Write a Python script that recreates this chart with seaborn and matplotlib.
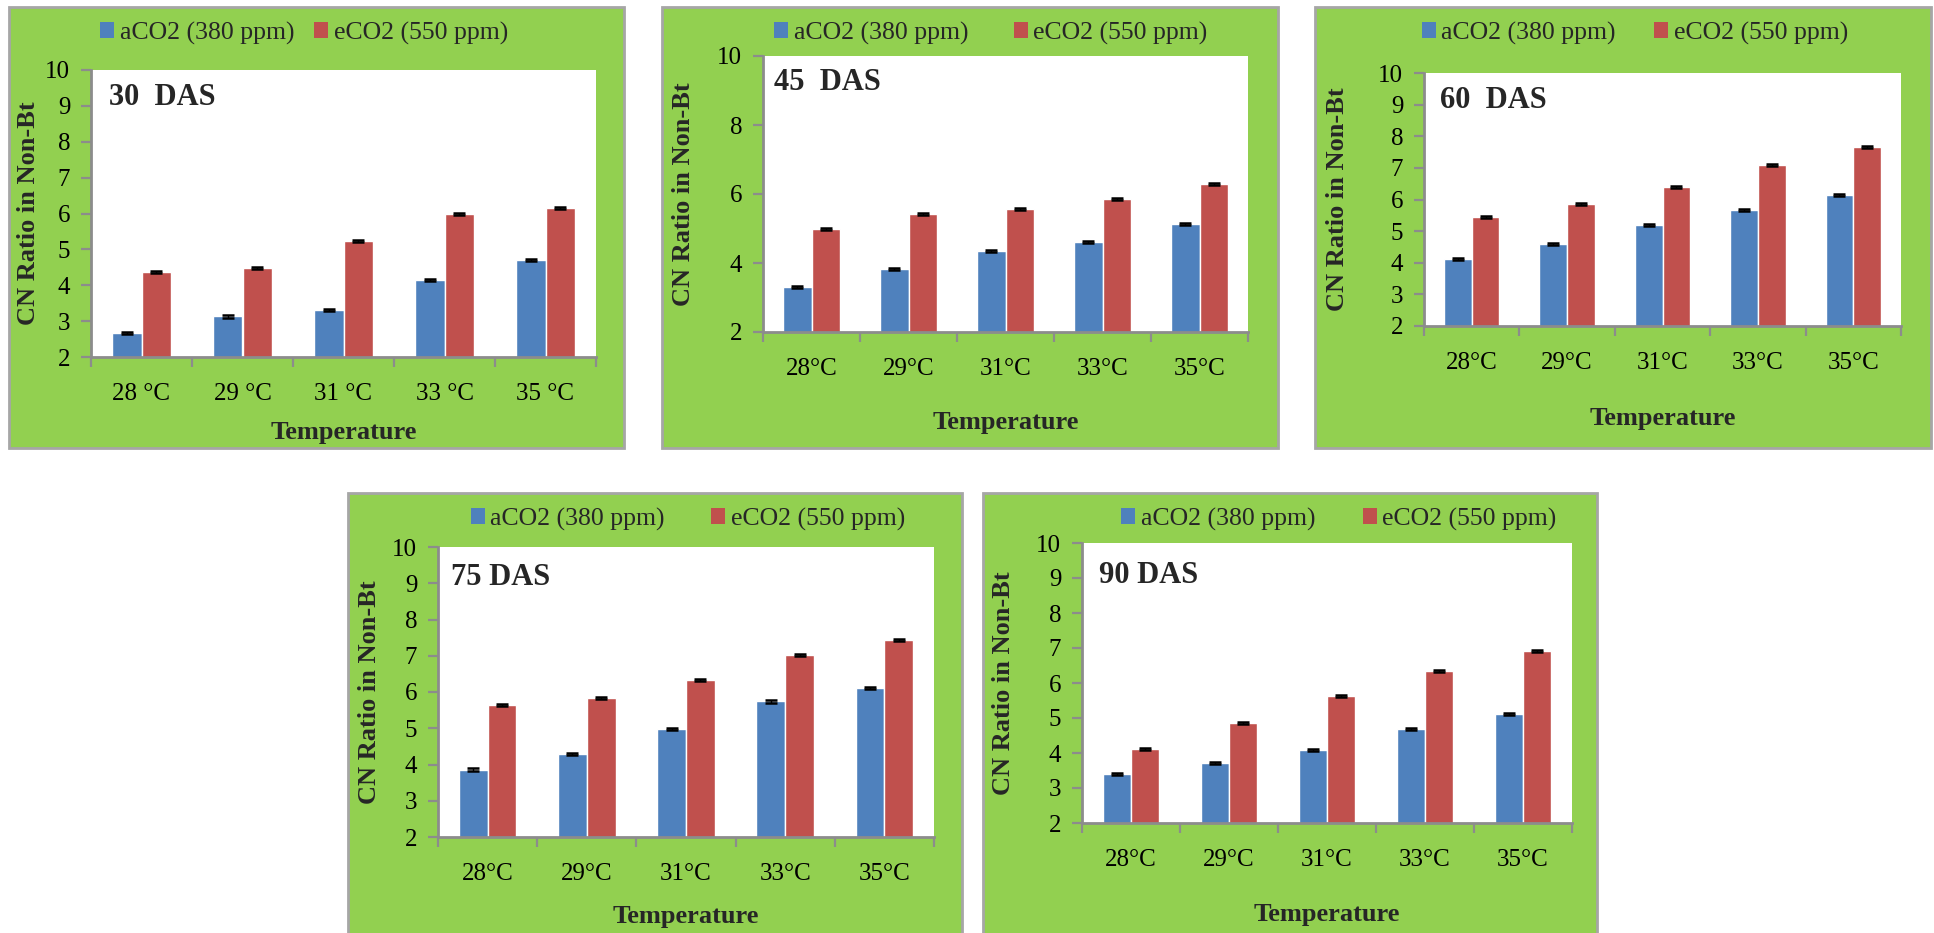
import matplotlib
matplotlib.use("Agg")
import matplotlib.pyplot as plt
from matplotlib.patches import Rectangle, Patch
import numpy as np
import pandas as pd
import seaborn as sns

# ---- data -------------------------------------------------------------
temps_30 = ["28 °C", "29 °C", "31 °C", "33 °C", "35 °C"]
temps = ["28°C", "29°C", "31°C", "33°C", "35°C"]
series = ["aCO2 (380 ppm)", "eCO2 (550 ppm)"]

das30_a = [2.66, 3.13, 3.30, 4.14, 4.70]
das30_e = [4.36, 4.47, 5.23, 5.98, 6.15]
das45_a = [3.31, 3.83, 4.34, 4.60, 5.12]
das45_e = [4.98, 5.41, 5.56, 5.85, 6.28]
das60_a = [4.11, 4.58, 5.18, 5.67, 6.13]
das60_e = [5.44, 5.86, 6.39, 7.08, 7.67]
das75_a = [3.86, 4.30, 4.99, 5.74, 6.12]
das75_e = [5.64, 5.84, 6.34, 7.03, 7.43]
das90_a = [3.39, 3.71, 4.08, 4.68, 5.11]
das90_e = [4.11, 4.85, 5.63, 6.34, 6.92]

err_a = [0.03, 0.03, 0.03, 0.03, 0.03]
err_e = [0.03, 0.03, 0.03, 0.03, 0.03]

titles = ["30  DAS", "45  DAS", "60  DAS", "75 DAS", "90 DAS"]
y_ticks_1 = [2, 3, 4, 5, 6, 7, 8, 9, 10]
y_ticks_2 = [2, 4, 6, 8, 10]

# ---- layout (pixels of a 1934 x 933 canvas) ----------------------------
W, H = 1934, 933
panels = [
    dict(title=titles[0], a=das30_a, e=das30_e, cats=temps_30, yt=y_ticks_1,
         box=(9, 7, 624, 448), ax=(91, 70, 596, 357), leg=(304, 33), cs=0.78,
         ttl=(109, 105), xl=432, yl=29),
    dict(title=titles[1], a=das45_a, e=das45_e, cats=temps, yt=y_ticks_2,
         box=(662, 7, 1278, 448), ax=(763, 56, 1248, 332), leg=(991, 33), cs=1.76,
         ttl=(774, 90), xl=423, yl=683),
    dict(title=titles[2], a=das60_a, e=das60_e, cats=temps, yt=y_ticks_1,
         box=(1315, 7, 1931, 448), ax=(1424, 73, 1901, 326), leg=(1635, 33), cs=1.5,
         ttl=(1440, 108), xl=418, yl=1338),
    dict(title=titles[3], a=das75_a, e=das75_e, cats=temps, yt=y_ticks_1,
         box=(348, 493, 962, 945), ax=(438, 547, 934, 837), leg=(688, 519), cs=1.8,
         ttl=(451, 585), xl=917, yl=369),
    dict(title=titles[4], a=das90_a, e=das90_e, cats=temps, yt=y_ticks_1,
         box=(983, 493, 1597, 945), ax=(1082, 543, 1572, 823), leg=(1339, 519), cs=1.85,
         ttl=(1099, 583), xl=915, yl=1004),
]

BLUE = "#4F81BD"
RED = "#C0504D"
GREEN = "#92D050"
GREY = "#8C8C8C"

sns.set_theme(style="white")
plt.rcParams["font.family"] = ["Liberation Serif", "DejaVu Serif"]

fig = plt.figure(figsize=(W / 100, H / 100), dpi=100)
fig.patch.set_facecolor("white")


def fx(x):
    return x / W


def fy(y):
    return 1 - y / H


for p in panels:
    x0, y0, x1, y1 = p["box"]
    fig.patches.append(Rectangle((fx(x0), fy(y1)), fx(x1 - x0), (y1 - y0) / H,
                                 transform=fig.transFigure, facecolor=GREEN,
                                 edgecolor="#A6A6A6", linewidth=2, zorder=-5))

    ax0, ay0, ax1, ay1 = p["ax"]
    ax = fig.add_axes([fx(ax0), fy(ay1), fx(ax1 - ax0), (ay1 - ay0) / H])
    ax.set_zorder(2)
    ax.set_facecolor("white")

    df = pd.DataFrame({
        "Temperature": p["cats"] * 2,
        "CO2": [series[0]] * 5 + [series[1]] * 5,
        "CN": p["a"] + p["e"],
    })
    sns.barplot(data=df, x="Temperature", y="CN", hue="CO2", order=p["cats"],
                hue_order=series, palette=[BLUE, RED], width=0.58,
                errorbar=None, saturation=1, ax=ax, legend=False, zorder=2)

    # small error caps on top of each bar
    for cont, err in zip(ax.containers, [err_a, err_e]):
        xs = [b.get_x() + b.get_width() / 2 for b in cont]
        hs = [b.get_height() for b in cont]
        ax.errorbar(xs, hs, yerr=err, fmt="none", ecolor="black",
                    elinewidth=1.0, capsize=4.5, capthick=1.8, zorder=3)

    ax.set_ylim(2, 10)
    ax.set_xlim(-0.5, 4.5)
    ax.set_yticks(p["yt"])
    ax.set_yticklabels([str(v) for v in p["yt"]], fontsize=18)
    ax.set_xticks(range(5))
    ax.set_xticklabels(p["cats"], fontsize=18)
    ax.set_xticks(np.arange(-0.5, 5.0, 1.0), minor=True)
    ax.tick_params(axis="x", which="major", length=0, pad=19, colors="black")
    ax.tick_params(axis="x", which="minor", length=7, width=1.6, color=GREY,
                   direction="out", bottom=True)
    ax.tick_params(axis="y", which="major", length=7, width=1.6, color=GREY,
                   direction="out", left=True, pad=8, labelcolor="black")
    for s in ["top", "right"]:
        ax.spines[s].set_visible(False)
    for s in ["left", "bottom"]:
        ax.spines[s].set_color(GREY)
        ax.spines[s].set_linewidth(2)
    ax.set_xlabel("")
    ax.set_ylabel("")

    handles = [Patch(facecolor=BLUE, edgecolor="none"),
               Patch(facecolor=RED, edgecolor="none")]
    fig.legend(handles, series, loc="center",
               bbox_to_anchor=(fx(p["leg"][0]), fy(p["leg"][1])),
               ncol=2, frameon=False, fontsize=18.5, handlelength=0.54,
               handleheight=0.55, handletextpad=0.22, columnspacing=p["cs"],
               borderpad=0)

    fig.text(fx(p["ttl"][0]), fy(p["ttl"][1]), p["title"], fontsize=22,
             fontweight="bold", ha="left", va="baseline", zorder=5)
    fig.text(fx((ax0 + ax1) / 2), fy(p["xl"]), "Temperature", fontsize=19,
             fontweight="bold", ha="center", va="center")
    fig.text(fx(p["yl"]), fy((ay0 + ay1) / 2), "CN Ratio in Non-Bt",
             fontsize=19, fontweight="bold", rotation=90,
             ha="center", va="center")

fig.savefig("out.png", dpi=100, facecolor="white")
